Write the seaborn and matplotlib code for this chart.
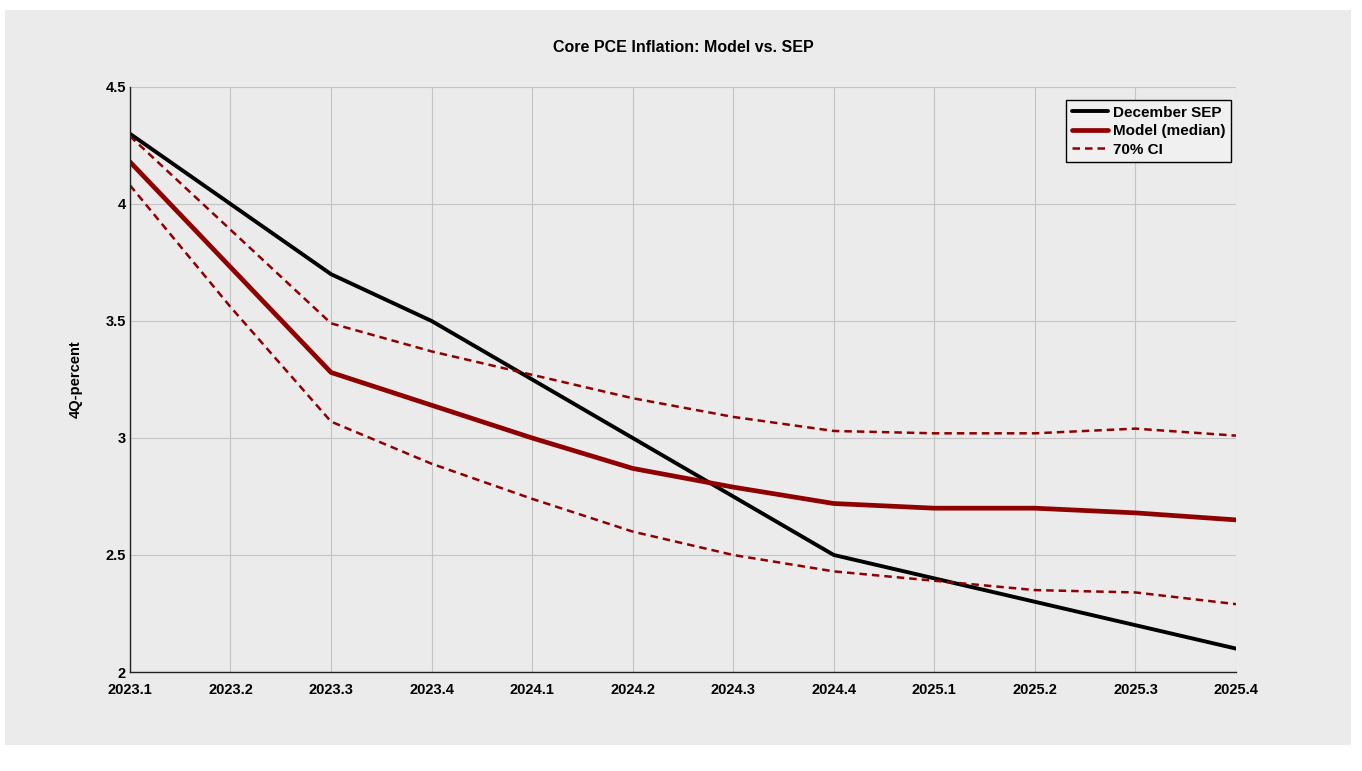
import numpy as np
import matplotlib
matplotlib.use("Agg")
import matplotlib.pyplot as plt
import seaborn as sns
from matplotlib.patches import Rectangle

quarters = ["2023.1", "2023.2", "2023.3", "2023.4", "2024.1", "2024.2",
            "2024.3", "2024.4", "2025.1", "2025.2", "2025.3", "2025.4"]
sep = [4.3, 4.0, 3.7, 3.5, 3.25, 3.0, 2.75, 2.5, 2.4, 2.3, 2.2, 2.1]
model_median = [4.18, 3.73, 3.28, 3.14, 3.0, 2.87, 2.79, 2.72, 2.70, 2.70, 2.68, 2.65]
ci_upper = [4.29, 3.89, 3.49, 3.37, 3.27, 3.17, 3.09, 3.03, 3.02, 3.02, 3.04, 3.01]
ci_lower = [4.08, 3.56, 3.07, 2.89, 2.74, 2.60, 2.50, 2.43, 2.39, 2.35, 2.34, 2.29]
yticks = [2, 2.5, 3, 3.5, 4, 4.5]
ytick_labels = ["2", "2.5", "3", "3.5", "4", "4.5"]

sns.set_style("white")
plt.rcParams['font.family'] = ['Liberation Sans', 'DejaVu Sans']
plt.rcParams['font.weight'] = 'bold'
plt.rcParams['text.color'] = 'black'
plt.rcParams['axes.labelcolor'] = 'black'

bg = "#ebebeb"
red = "#8f0000"
xpos = np.arange(len(quarters))

fig = plt.figure(figsize=(13.62, 7.71), dpi=100, facecolor="white")
fig.patches.append(Rectangle((0.004, 0.034), 0.988, 0.953, transform=fig.transFigure,
                             facecolor=bg, edgecolor="none", zorder=-1))
ax = fig.add_axes([0.0954, 0.1284, 0.8121, 0.7588])
ax.set_facecolor(bg)

sns.lineplot(x=xpos, y=sep, ax=ax, color="black", linewidth=2.8, label="December SEP")
sns.lineplot(x=xpos, y=model_median, ax=ax, color=red, linewidth=3.4, label="Model (median)")
sns.lineplot(x=xpos, y=ci_upper, ax=ax, color=red, linewidth=1.8, linestyle=(0, (3, 2)), label="70% CI")
sns.lineplot(x=xpos, y=ci_lower, ax=ax, color=red, linewidth=1.8, linestyle=(0, (3, 2)))

ax.set_xlim(0, len(quarters) - 1)
ax.set_ylim(2, 4.5)
ax.set_xticks(xpos)
ax.set_xticklabels(quarters, fontsize=10.5, fontweight="bold")
ax.set_yticks(yticks)
ax.set_yticklabels(ytick_labels, fontsize=10.5, fontweight="bold")
ax.grid(True, color="#c4c4c4", linewidth=0.8)
ax.tick_params(direction="in", length=7, width=1, colors="black", pad=3)
ax.tick_params(axis="x", pad=8)
for s in ["top", "right"]:
    ax.spines[s].set_visible(False)
for s in ["left", "bottom"]:
    ax.spines[s].set_color("#222222")
    ax.spines[s].set_linewidth(1.0)

ax.set_ylabel("4Q-percent", fontsize=10.5, fontweight="bold", labelpad=16)
ax.set_xlabel("")
ax.set_title("Core PCE Inflation: Model vs. SEP", fontsize=11.5, fontweight="bold", pad=25,
             color="black")

leg = ax.legend(loc="upper right", bbox_to_anchor=(0.9995, 0.985), fontsize=11,
                frameon=True, fancybox=False, handlelength=2.4, handletextpad=0.3,
                borderpad=0.35, labelspacing=0.3, borderaxespad=0.3)
leg.get_frame().set_edgecolor("black")
leg.get_frame().set_facecolor("#f0f0f0")
leg.get_frame().set_alpha(1)
leg.get_frame().set_linewidth(1.0)

fig.savefig("out.png", dpi=100, facecolor="white")
